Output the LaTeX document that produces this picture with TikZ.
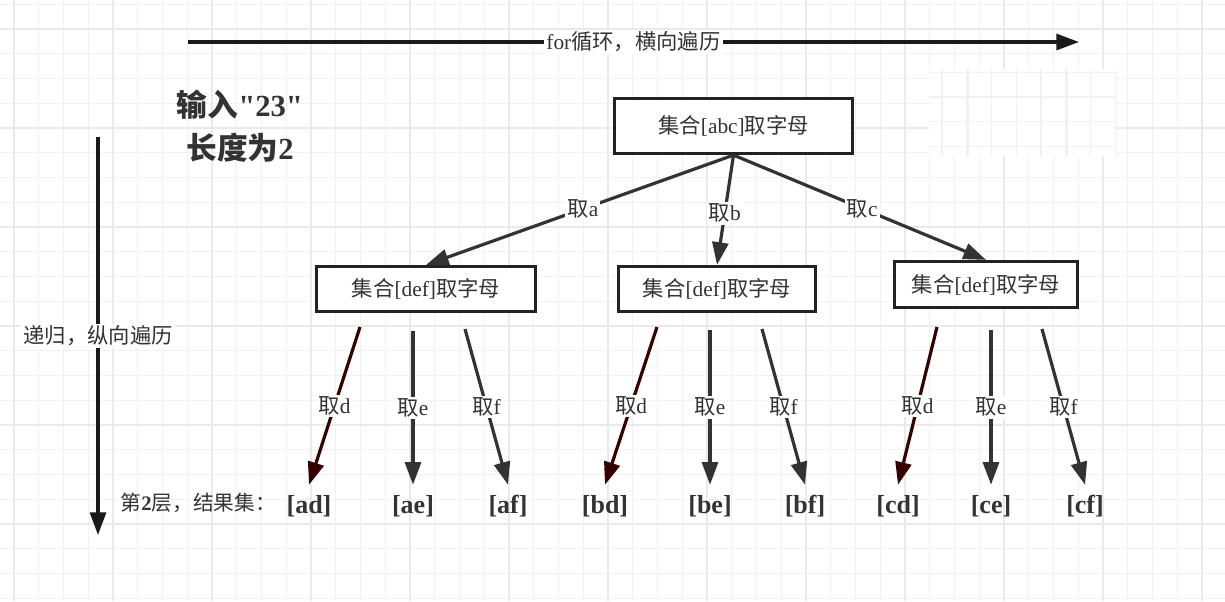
\documentclass[tikz,border=0pt]{standalone}
\usepackage{fontspec}
\setmainfont{Liberation Serif}
\newfontfamily\cjk{Noto Sans CJK SC}
\newfontfamily\serifplain{Liberation Serif}
\usetikzlibrary{arrows.meta}
\newcommand\zh[1]{{\cjk #1}}
\definecolor{txt}{HTML}{333333}
\definecolor{edgecol}{HTML}{333333}
\definecolor{redge}{HTML}{360000}
\definecolor{axiscol}{HTML}{1A1A1A}
\definecolor{gridminor}{HTML}{F1F1F1}
\definecolor{gridmajor}{HTML}{EAEAEA}
\definecolor{boxline}{HTML}{222222}
\begin{document}
\begin{tikzpicture}[x=0.75pt,y=-0.75pt,
  every node/.style={text=txt},
  setbox/.style={draw=boxline, line width=2.4pt, fill=white, inner sep=0pt,
    font=\fontsize{16pt}{19pt}\selectfont},
  leaf/.style={inner sep=0pt, minimum height=31.5pt,
    font=\fontsize{19.5pt}{23pt}\selectfont\bfseries},
  edgelabel/.style={fill=white, inner sep=1.5pt,
    font=\fontsize{16pt}{19pt}\selectfont},
  conn/.style={draw=edgecol, line width=2.4pt,
    -{Triangle[length=17pt,width=12pt]}},
  rconn/.style={conn, draw=redge},
  axisarrow/.style={draw=axiscol, line width=2.3pt,
    -{Triangle[length=17pt,width=12pt]}},
  gridm/.style={draw=gridminor, line width=0.8pt},
  gridM/.style={draw=gridmajor, line width=1pt}
]
\useasboundingbox (0,0) rectangle (1225,601);
\fill[white] (0,0) rectangle (1225,601);
% grid
\foreach \i in {0,...,48} \draw[gridm] ({14+24.75*\i},0) -- ({14+24.75*\i},601);
\foreach \i in {0,...,24} \draw[gridm] (0,{4.25+24.75*\i}) -- (1225,{4.25+24.75*\i});
\foreach \i in {0,...,12} \draw[gridM] ({14+99*\i},0) -- ({14+99*\i},601);
\foreach \i in {0,...,5} \draw[gridM] (0,{29+99*\i}) -- (1225,{29+99*\i});
% pasted white patch
\fill[white] (929,69) rectangle (1116,156);
\begin{scope}
\clip (929,69) rectangle (1116,156);
\foreach \i in {-1,...,8} \draw[gridm] ({942+24.75*\i},69) -- ++(0,87);
\foreach \i in {-2,...,3} \draw[gridm] (929,{97+24.75*\i}) -- ++(187,0);
\draw[gridm] (968,69) -- ++(0,87);
\draw[gridm] (1067,69) -- ++(0,87);
\draw[gridm] (929,97) -- ++(187,0);
\end{scope}

% axes
\coordinate (hs) at (188,42);
\coordinate (he) at (1079,42);
\draw[axisarrow] (hs) -- node[edgelabel] (hlab) {for\zh{循环，横向遍历}} (he);
\coordinate (vs) at (98,137);
\coordinate (ve) at (98,535);
\draw[axisarrow] (vs) -- node[edgelabel] (vlab) {\zh{递归，纵向遍历}} (ve);

% title
\node[align=center, font=\fontsize{23pt}{32pt}\selectfont\bfseries] (title) at (240,126)
  {\zh{输入}{\serifplain "23"}\\\zh{长度为}2};

% set boxes
\node[setbox, minimum width=178.5pt, minimum height=41.25pt] (top) at (733.5,126) {\zh{集合}[abc]\zh{取字母}};
\node[setbox, minimum width=164.25pt, minimum height=33.75pt] (b1) at (426,289) {\zh{集合}[def]\zh{取字母}};
\node[setbox, minimum width=147.75pt, minimum height=33.75pt] (b2) at (717,289) {\zh{集合}[def]\zh{取字母}};
\node[setbox, minimum width=137.25pt, minimum height=34.5pt] (b3) at (986,284.5) {\zh{集合}[def]\zh{取字母}};

\draw[conn] (top.south) -- node[edgelabel, pos=0.49] (la) {\zh{取}a} (b1.north);
\draw[conn] (top.south) -- node[edgelabel, pos=0.53] (lb) {\zh{取}b} (b2.north);
\draw[conn] (top.south) -- node[edgelabel, pos=0.51] (lc) {\zh{取}c} (b3.north);

% level label
\node[anchor=west, font=\fontsize{15.5pt}{18pt}\selectfont] (lvl) at (116,503)
  {\zh{第}{\bfseries 2}\zh{层，结果集：}};

% leaves
\node[leaf] (ad) at (309,506) {[ad]};
\node[leaf] (ae) at (413,506) {[ae]};
\node[leaf] (af) at (508,506) {[af]};
\node[leaf] (bd) at (605,506) {[bd]};
\node[leaf] (be) at (710,506) {[be]};
\node[leaf] (bf) at (805,506) {[bf]};
\node[leaf] (cd) at (898,506) {[cd]};
\node[leaf] (ce) at (991,506) {[ce]};
\node[leaf] (cf) at (1085,506) {[cf]};

% lower edge starts
\coordinate (d1) at (360,327);
\coordinate (e1) at (413,331);
\coordinate (f1) at (465,329);
\coordinate (d2) at (657,327);
\coordinate (e2) at (710,330);
\coordinate (f2) at (762,329);
\coordinate (d3) at (937,327);
\coordinate (e3) at (991,330);
\coordinate (f3) at (1042,329);

\draw[rconn] (d1) -- node[edgelabel] (l1d) {\zh{取}d} (ad.north);
\draw[conn]  (e1) -- node[edgelabel] (l1e) {\zh{取}e} (ae.north);
\draw[conn]  (f1) -- node[edgelabel] (l1f) {\zh{取}f} (af.north);
\draw[rconn] (d2) -- node[edgelabel] (l2d) {\zh{取}d} (bd.north);
\draw[conn]  (e2) -- node[edgelabel] (l2e) {\zh{取}e} (be.north);
\draw[conn]  (f2) -- node[edgelabel] (l2f) {\zh{取}f} (bf.north);
\draw[rconn] (d3) -- node[edgelabel] (l3d) {\zh{取}d} (cd.north);
\draw[conn]  (e3) -- node[edgelabel] (l3e) {\zh{取}e} (ce.north);
\draw[conn]  (f3) -- node[edgelabel] (l3f) {\zh{取}f} (cf.north);
\end{tikzpicture}
\end{document}
